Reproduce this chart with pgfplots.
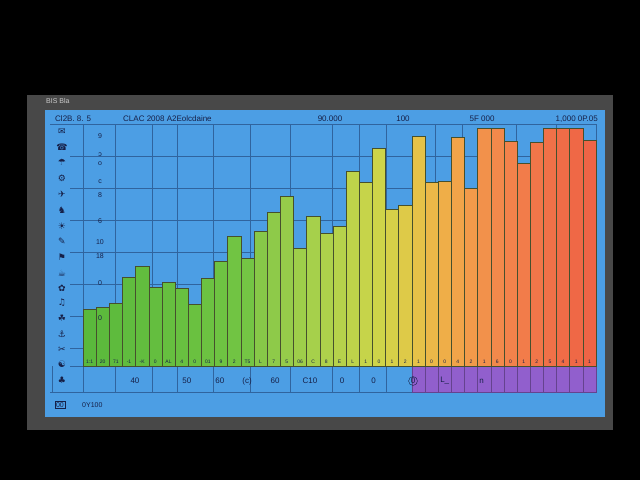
\documentclass[border=0pt]{standalone}
\usepackage{fontspec}
\setmainfont{Liberation Sans}
\newfontfamily\sym{DejaVu Sans}
\usepackage{pgfplots}
\pgfplotsset{compat=1.18}
\definecolor{frameg}{RGB}{72,72,72}
\definecolor{panelb}{RGB}{76,158,228}
\definecolor{gridc}{RGB}{48,100,158}
\definecolor{navy}{RGB}{22,32,72}
\definecolor{edge}{RGB}{70,80,45}
\definecolor{purp}{RGB}{145,95,205}
\definecolor{b1}{RGB}{90,185,60}
\definecolor{b2}{RGB}{92,186,60}
\definecolor{b3}{RGB}{94,187,61}
\definecolor{b4}{RGB}{96,188,62}
\definecolor{b5}{RGB}{98,189,62}
\definecolor{b6}{RGB}{100,190,63}
\definecolor{b7}{RGB}{102,191,63}
\definecolor{b8}{RGB}{104,192,64}
\definecolor{b9}{RGB}{106,193,64}
\definecolor{b10}{RGB}{108,194,65}
\definecolor{b11}{RGB}{110,195,66}
\definecolor{b12}{RGB}{113,196,67}
\definecolor{b13}{RGB}{116,197,68}
\definecolor{b14}{RGB}{135,200,72}
\definecolor{b15}{RGB}{142,202,73}
\definecolor{b16}{RGB}{150,204,74}
\definecolor{b17}{RGB}{158,206,74}
\definecolor{b18}{RGB}{166,208,75}
\definecolor{b19}{RGB}{174,209,75}
\definecolor{b20}{RGB}{182,210,75}
\definecolor{b21}{RGB}{190,211,74}
\definecolor{b22}{RGB}{198,212,74}
\definecolor{b23}{RGB}{206,212,73}
\definecolor{b24}{RGB}{214,208,72}
\definecolor{b25}{RGB}{222,202,72}
\definecolor{b26}{RGB}{230,194,72}
\definecolor{b27}{RGB}{236,184,72}
\definecolor{b28}{RGB}{239,174,72}
\definecolor{b29}{RGB}{241,164,73}
\definecolor{b30}{RGB}{242,154,74}
\definecolor{b31}{RGB}{242,145,75}
\definecolor{b32}{RGB}{242,137,75}
\definecolor{b33}{RGB}{242,130,75}
\definecolor{b34}{RGB}{242,124,74}
\definecolor{b35}{RGB}{241,118,73}
\definecolor{b36}{RGB}{240,113,72}
\definecolor{b37}{RGB}{240,108,71}
\definecolor{b38}{RGB}{239,104,70}
\definecolor{b39}{RGB}{238,100,70}
\begin{document}
\begin{tikzpicture}[x=1pt,y=1pt]
\useasboundingbox (0,0) rectangle (640,480);
\fill[black] (0,0) rectangle (640,480);
\fill[frameg] (27,50) rectangle (613,385);
\fill[panelb] (45,63) rectangle (605,370);
\begin{axis}[
  at={(83pt,88pt)}, anchor=south west,
  scale only axis, width=513pt, height=268pt,
  xmin=0.5, xmax=39.5, ymin=-26, ymax=242,
  ybar, bar width=1, bar shift=0pt,
  axis line style={gridc, line width=0.5pt},
  major tick length=0pt,
  xtick=\empty,
  extra x ticks={2.93,5.75,7.65,10.38,13.20,16.24,19.43,21.48,23.53,27.26,29.31,33.42,36.46},
  extra x tick labels={},
  extra x tick style={grid=major},
  ytick={0,18,50,82,114,146,178,210},
  yticklabels={},
  ymajorgrids,
  grid style={gridc, line width=0.4pt},
  clip=false,
]
\addplot[fill=purp, draw=purp!70!black, line width=0.4pt] coordinates {(26,-26) (27,-26) (28,-26) (29,-26) (30,-26) (31,-26) (32,-26) (33,-26) (34,-26) (35,-26) (36,-26) (37,-26) (38,-26) (39,-26)};
\addplot[fill=b1, draw=edge, line width=0.5pt] coordinates {(1,57)};
\addplot[fill=b2, draw=edge, line width=0.5pt] coordinates {(2,59)};
\addplot[fill=b3, draw=edge, line width=0.5pt] coordinates {(3,63)};
\addplot[fill=b4, draw=edge, line width=0.5pt] coordinates {(4,89)};
\addplot[fill=b5, draw=edge, line width=0.5pt] coordinates {(5,100)};
\addplot[fill=b6, draw=edge, line width=0.5pt] coordinates {(6,79)};
\addplot[fill=b7, draw=edge, line width=0.5pt] coordinates {(7,84)};
\addplot[fill=b8, draw=edge, line width=0.5pt] coordinates {(8,78)};
\addplot[fill=b9, draw=edge, line width=0.5pt] coordinates {(9,62)};
\addplot[fill=b10, draw=edge, line width=0.5pt] coordinates {(10,88)};
\addplot[fill=b11, draw=edge, line width=0.5pt] coordinates {(11,105)};
\addplot[fill=b12, draw=edge, line width=0.5pt] coordinates {(12,130)};
\addplot[fill=b13, draw=edge, line width=0.5pt] coordinates {(13,108)};
\addplot[fill=b14, draw=edge, line width=0.5pt] coordinates {(14,135)};
\addplot[fill=b15, draw=edge, line width=0.5pt] coordinates {(15,154)};
\addplot[fill=b16, draw=edge, line width=0.5pt] coordinates {(16,170)};
\addplot[fill=b17, draw=edge, line width=0.5pt] coordinates {(17,118)};
\addplot[fill=b18, draw=edge, line width=0.5pt] coordinates {(18,150)};
\addplot[fill=b19, draw=edge, line width=0.5pt] coordinates {(19,133)};
\addplot[fill=b20, draw=edge, line width=0.5pt] coordinates {(20,140)};
\addplot[fill=b21, draw=edge, line width=0.5pt] coordinates {(21,195)};
\addplot[fill=b22, draw=edge, line width=0.5pt] coordinates {(22,184)};
\addplot[fill=b23, draw=edge, line width=0.5pt] coordinates {(23,218)};
\addplot[fill=b24, draw=edge, line width=0.5pt] coordinates {(24,157)};
\addplot[fill=b25, draw=edge, line width=0.5pt] coordinates {(25,161)};
\addplot[fill=b26, draw=edge, line width=0.5pt] coordinates {(26,230)};
\addplot[fill=b27, draw=edge, line width=0.5pt] coordinates {(27,184)};
\addplot[fill=b28, draw=edge, line width=0.5pt] coordinates {(28,185)};
\addplot[fill=b29, draw=edge, line width=0.5pt] coordinates {(29,229)};
\addplot[fill=b30, draw=edge, line width=0.5pt] coordinates {(30,178)};
\addplot[fill=b31, draw=edge, line width=0.5pt] coordinates {(31,238)};
\addplot[fill=b32, draw=edge, line width=0.5pt] coordinates {(32,238)};
\addplot[fill=b33, draw=edge, line width=0.5pt] coordinates {(33,225)};
\addplot[fill=b34, draw=edge, line width=0.5pt] coordinates {(34,203)};
\addplot[fill=b35, draw=edge, line width=0.5pt] coordinates {(35,224)};
\addplot[fill=b36, draw=edge, line width=0.5pt] coordinates {(36,238)};
\addplot[fill=b37, draw=edge, line width=0.5pt] coordinates {(37,238)};
\addplot[fill=b38, draw=edge, line width=0.5pt] coordinates {(38,238)};
\addplot[fill=b39, draw=edge, line width=0.5pt] coordinates {(39,226)};
% strip of small labels along the base of the bars
\addplot[draw=none, fill=none, nodes near coords, point meta=explicit symbolic,
  every node near coord/.style={font=\fontsize{5}{5}\selectfont, text=navy, anchor=center, yshift=4pt, inner sep=0pt}]
  table[meta=lab] {
x y lab
1 0 1:1
2 0 20
3 0 71
4 0 -1
5 0 -K
6 0 0
7 0 AL
8 0 4
9 0 0
10 0 01
11 0 9
12 0 2
13 0 T5
14 0 L
15 0 7
16 0 5
17 0 06
18 0 C
19 0 8
20 0 E
21 0 L
22 0 1
23 0 0
24 0 1
25 0 2
26 0 1
27 0 0
28 0 0
29 0 4
30 0 2
31 0 1
32 0 6
33 0 0
34 0 1
35 0 2
36 0 5
37 0 4
38 0 1
39 0 1
};
\begin{scope}[every node/.style={font=\fontsize{8}{8}\selectfont, text=navy}]
\node at (axis cs:4.45,-15) {40};
\node at (axis cs:8.4,-15) {50};
\node at (axis cs:10.9,-15) {60};
\node at (axis cs:12.97,-15) {(c)};
\node at (axis cs:15.1,-15) {60};
\node at (axis cs:17.76,-15) {C10};
\node at (axis cs:20.19,-15) {0};
\node at (axis cs:22.6,-15) {0};
\node[circle, draw=navy, inner sep=0.6pt] at (axis cs:25.59,-15) {0};
\node at (axis cs:28.0,-15) {L\_};
\node at (axis cs:30.8,-15) {n};
\end{scope}
\end{axis}
% left grid extensions
\foreach \yy in {114,132,164,196,228,260,292,324,356} \draw[gridc, line width=0.4pt] (70,\yy) -- (83,\yy);
\draw[gridc, line width=0.5pt] (50,356) -- (83,356);
\draw[gridc, line width=0.5pt] (50,88) -- (83,88);
\draw[gridc, line width=0.5pt] (52,88) -- (52,114);
% header
\begin{scope}[every node/.style={font=\fontsize{8}{8}\selectfont, text=navy, inner sep=0pt}]
\node[anchor=west] at (55,361) {Cl2B. 8. 5};
\node[anchor=west] at (123,361) {CLAC 2008 A2Eolcdaine};
\node at (330,361) {90.000};
\node at (403,361) {100};
\node at (482,361) {5F 000};
\node[anchor=east] at (598,361) {1,000 0P.05};
\end{scope}
\node[anchor=west, inner sep=0pt, font=\fontsize{7}{7}\selectfont, text=white!80!black] at (46,379) {BIS Bla};
% left icons
\begin{scope}[every node/.style={font=\sym\fontsize{9}{9}\selectfont, text=navy, inner sep=0pt}]
\node at (62,348) {✉};
\node at (62,333) {☎};
\node at (62,318) {☂};
\node at (62,302) {⚙};
\node at (62,286) {✈};
\node at (62,270) {♞};
\node at (62,254) {☀};
\node at (62,239) {✎};
\node at (62,223) {⚑};
\node at (62,207) {☕};
\node at (62,192) {✿};
\node at (62,177) {♫};
\node at (62,162) {☘};
\node at (62,146) {⚓};
\node at (62,130) {✂};
\node at (62,116) {☯};
\node at (62,100) {♣};
\end{scope}
% y-side labels
\begin{scope}[every node/.style={font=\fontsize{7}{7}\selectfont, text=navy, inner sep=0pt}]
\node at (100,344) {9};
\node at (100,325) {ɔ};
\node at (100,316) {o};
\node at (100,298) {c};
\node at (100,285) {8};
\node at (100,259) {6};
\node at (100,238) {10};
\node at (100,224) {18};
\node at (100,197) {0};
\node at (100,162) {0};
\end{scope}
% bottom labels
\node[draw=navy, inner sep=1pt, font=\fontsize{7}{7}\selectfont, text=navy] at (60,75) {00};
\node[anchor=west, inner sep=0pt, font=\fontsize{7}{7}\selectfont, text=navy] at (82,75) {0Y100};
\end{tikzpicture}
\end{document}
